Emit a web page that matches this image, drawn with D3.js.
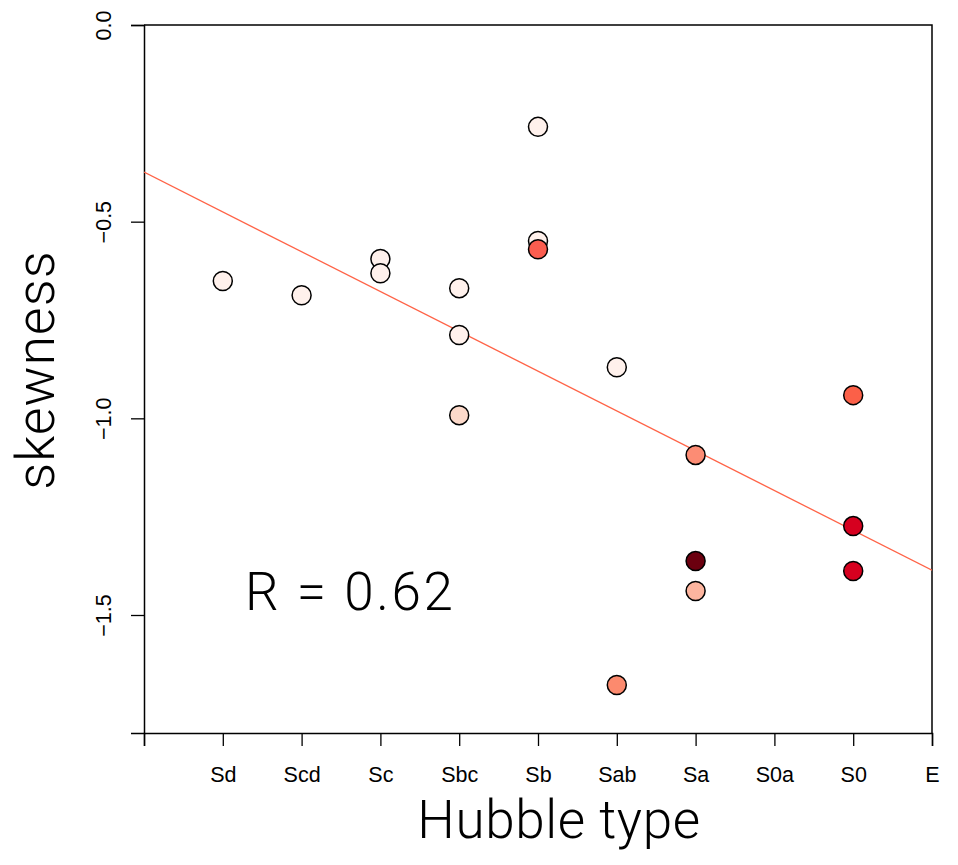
<!DOCTYPE html>
<html>
<head>
<meta charset="utf-8">
<script src="https://cdn.jsdelivr.net/npm/d3@7"></script>
<style>
  html, body { margin: 0; padding: 0; background: #fff; }
  svg { display: block; }
</style>
</head>
<body>
<svg id="chart" width="958" height="865"></svg>
<script>
// ---- data ----
const hubbleTypes = ["", "Sd", "Scd", "Sc", "Sbc", "Sb", "Sab", "Sa", "S0a", "S0", "E"];
const pointType = ["Sd", "Scd", "Sc", "Sc", "Sbc", "Sbc", "Sbc", "Sb", "Sb", "Sb", "Sab", "Sab", "Sa", "Sa", "Sa", "S0", "S0", "S0"];
const skewness  = [-0.651, -0.687, -0.595, -0.631, -0.669, -0.788, -0.992, -0.259, -0.549, -0.570, -0.870, -1.678, -1.093, -1.363, -1.439, -0.941, -1.274, -1.388];
const pointColor = ["#fff1ec", "#fff1ec", "#fff1ec", "#fff1ec", "#fff1ec", "#fff1ec", "#fcd9ca",
                    "#fff1ec", "#fff1ec", "#fb5d4f",
                    "#fff1ec", "#fc8a6e",
                    "#fc8c74", "#6b000f", "#fdb59f",
                    "#fb6048", "#d6001f", "#d6001f"];
const yTicks = [0, -0.5, -1.0, -1.5];
const fitX = [0, 10];
const fitY = [-0.374, -1.386];
const rLabel = "R = 0.62";

// ---- layout ----
const plotL = 144, plotR = 932, plotT = 25, plotB = 733;
const svg = d3.select("#chart");

const x = d3.scaleLinear().domain([0, hubbleTypes.length - 1]).range([plotL, plotR]);
const y = d3.scaleLinear().domain([-1.8, 0]).range([plotB, plotT]);

const tickFont = "'Liberation Sans', Arial, Helvetica, sans-serif";
const bigFont = "'Helvetica Neue', Roboto, 'Liberation Sans', sans-serif";

// x axis
const xAxis = d3.axisBottom(x)
  .tickValues(d3.range(hubbleTypes.length))
  .tickFormat(i => hubbleTypes[i])
  .tickSizeOuter(0)
  .tickSize(13)
  .tickPadding(21);
const gx = svg.append("g").attr("transform", `translate(0,${plotB})`).call(xAxis);
gx.select(".domain").attr("stroke", "#000").attr("stroke-width", 1.5);
gx.selectAll(".tick line").attr("stroke", "#000").attr("stroke-width", 1.3);
gx.selectAll(".tick text").attr("font-family", tickFont).attr("font-size", 21.5).attr("fill", "#000");

// y axis
const yAxis = d3.axisLeft(y)
  .tickValues(yTicks)
  .tickFormat(d => d3.format(".1f")(d).replace("-", "\u2212"))
  .tickSizeOuter(0)
  .tickSize(13);
const gy = svg.append("g").attr("transform", `translate(${plotL},0)`).call(yAxis);
gy.select(".domain").attr("stroke", "#000").attr("stroke-width", 1.5);
gy.selectAll(".tick line").attr("stroke", "#000").attr("stroke-width", 1.3);
gy.selectAll(".tick text")
  .attr("font-family", tickFont).attr("font-size", 21.5).attr("fill", "#000")
  .attr("x", 0)
  .attr("text-anchor", "middle")
  .attr("transform", "translate(-41,0) rotate(-90)")
  .attr("y", 0).attr("dy", "0.35em");

// box (top and right)
svg.append("path")
  .attr("d", `M${plotL},${plotT}H${plotR}V${plotB}`)
  .attr("fill", "none").attr("stroke", "#000").attr("stroke-width", 1.5);

// clip
svg.append("clipPath").attr("id", "plotclip")
  .append("rect").attr("x", plotL).attr("y", plotT).attr("width", plotR - plotL).attr("height", plotB - plotT);

// regression line
svg.append("line")
  .attr("clip-path", "url(#plotclip)")
  .attr("x1", x(fitX[0])).attr("y1", y(fitY[0]))
  .attr("x2", x(fitX[1])).attr("y2", y(fitY[1]))
  .attr("stroke", "#ff6347").attr("stroke-width", 1.3);

// points
svg.append("g").selectAll("circle")
  .data(skewness.map((v, i) => ({ t: pointType[i], v, c: pointColor[i] })))
  .join("circle")
  .attr("cx", d => x(hubbleTypes.indexOf(d.t)))
  .attr("cy", d => y(d.v))
  .attr("r", 9.5)
  .attr("fill", d => d.c)
  .attr("stroke", "#000")
  .attr("stroke-width", 1.5);

// R label
svg.append("text")
  .attr("x", 245).attr("y", y(-1.44))
  .attr("dy", "0.35em")
  .attr("font-family", bigFont).attr("font-weight", 300)
  .attr("font-size", 53).attr("letter-spacing", 2.6).attr("fill", "#000")
  .text(rLabel);

// axis titles
svg.append("text")
  .attr("x", (plotL + plotR) / 2 + 21).attr("y", 838)
  .attr("text-anchor", "middle")
  .attr("font-family", bigFont).attr("font-weight", 300)
  .attr("font-size", 53).attr("letter-spacing", 0.6).attr("fill", "#000")
  .text("Hubble type");

svg.append("text")
  .attr("transform", `translate(54,${(plotT + plotB) / 2 - 9}) rotate(-90)`)
  .attr("text-anchor", "middle")
  .attr("font-family", bigFont).attr("font-weight", 300)
  .attr("font-size", 53).attr("letter-spacing", 1.2).attr("fill", "#000")
  .text("skewness");
</script>
</body>
</html>
